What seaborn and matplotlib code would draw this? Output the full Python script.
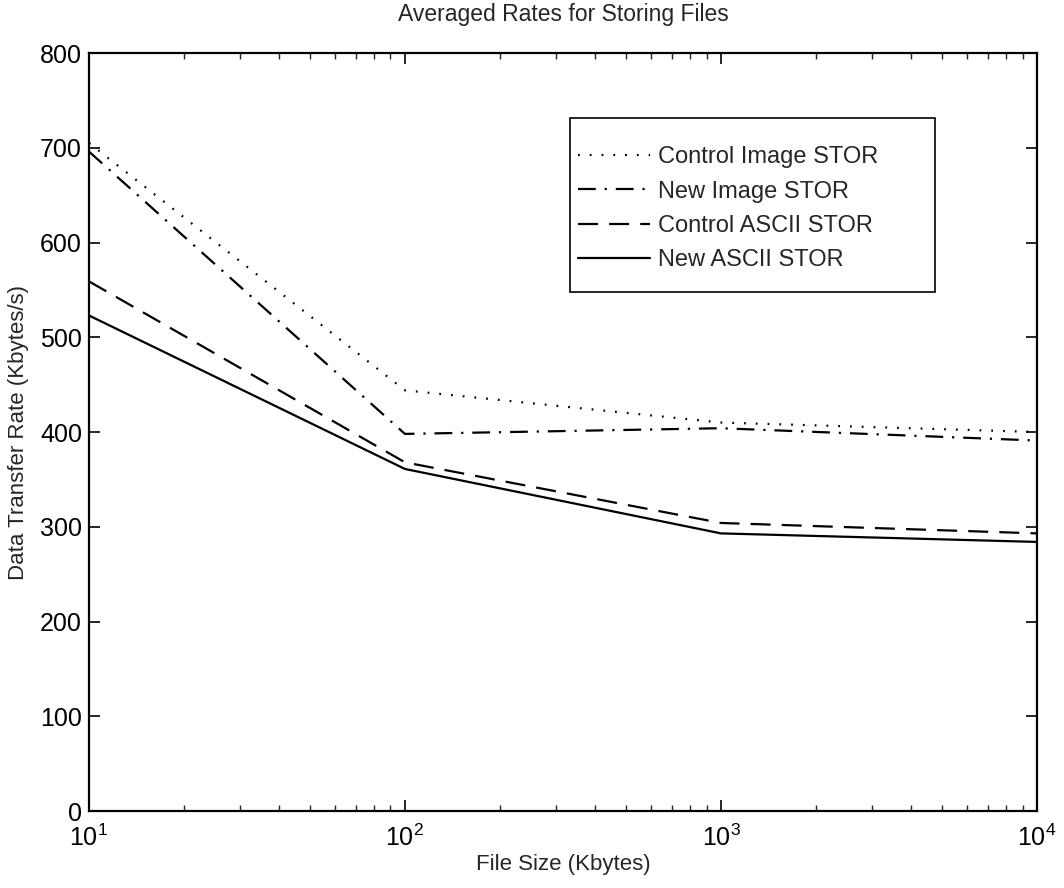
import matplotlib.pyplot as plt
import seaborn as sns
import pandas as pd
import numpy as np
from matplotlib.patches import Rectangle

# Datos
tamanos = [10, 100, 1000, 10000]
control_image = [705, 444, 410, 400]
new_image = [696, 398, 404, 391]
control_ascii = [559, 368, 304, 293]
new_ascii = [523, 361, 293, 284]

series = [
    ("Control Image STOR", control_image, (0, (0.8, 4.5))),
    ("New Image STOR", new_image, (0, (8, 4, 1, 4))),
    ("Control ASCII STOR", control_ascii, (0, (9, 5))),
    ("New ASCII STOR", new_ascii, "-"),
]

sns.set_style("ticks")
plt.rcParams['font.family'] = ['Liberation Sans', 'DejaVu Sans']
plt.rcParams['xtick.direction'] = 'in'
plt.rcParams['ytick.direction'] = 'in'
plt.rcParams['xtick.top'] = True
plt.rcParams['ytick.right'] = True

fig = plt.figure(figsize=(10.64, 8.88), dpi=100)
ax = fig.add_axes([0.0836, 0.0867, 0.891, 0.8536])

for nombre, valores, estilo in series:
    df = pd.DataFrame({"tam": tamanos, "tasa": valores})
    sns.lineplot(data=df, x="tam", y="tasa", ax=ax, color="black",
                 linewidth=1.6, linestyle=estilo, label=nombre)

ax.set_xscale("log")
ax.set_xlim(10, 10000)
ax.set_ylim(0, 800)
ax.set_yticks(np.arange(0, 801, 100))
ax.tick_params(axis='both', which='major', labelsize=18, length=8, width=1.2, colors='black')
ax.tick_params(axis='x', which='major', pad=10)
ax.tick_params(axis='y', which='major', pad=5)
ax.tick_params(axis='x', which='minor', length=4, width=1, top=True)
for s in ax.spines.values():
    s.set_linewidth(1.6)
    s.set_color('black')

ax.set_xlabel("File Size (Kbytes)", fontsize=16, labelpad=2)
ax.set_ylabel("Data Transfer Rate (Kbytes/s)", fontsize=16, labelpad=8)
ax.set_title("Averaged Rates for Storing Files", fontsize=16.5, pad=23)

# Recuadro de la leyenda (estilo MATLAB, con mas margen a la derecha)
ax.add_patch(Rectangle((0.5074, 0.6847), 0.385, 0.2295, transform=ax.transAxes,
                       facecolor='white', edgecolor='black', linewidth=1.2, zorder=4))
leg = ax.legend(loc='upper left', bbox_to_anchor=(0.516, 0.877), fontsize=17,
                frameon=False, borderpad=0, borderaxespad=0,
                handlelength=3.05, labelspacing=0.52, handletextpad=0.35)
leg.set_zorder(5)

plt.savefig("out.png", dpi=100)
